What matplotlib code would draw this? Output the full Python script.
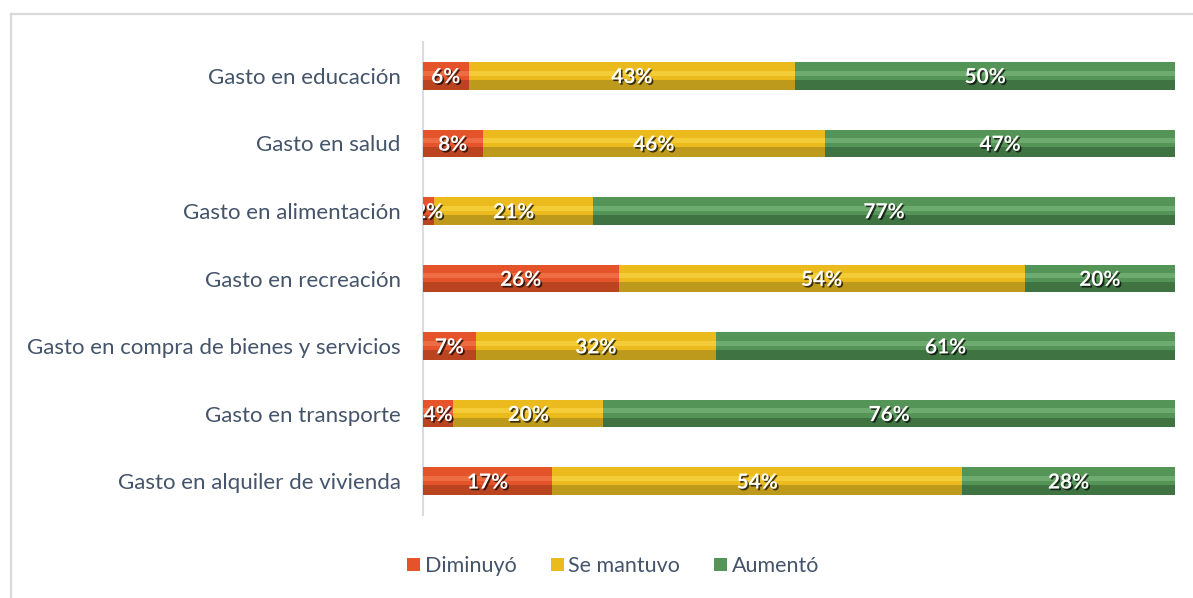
import matplotlib
matplotlib.use('Agg')
import matplotlib.pyplot as plt
import matplotlib.patheffects as pe
import numpy as np
from matplotlib.lines import Line2D

categories = ["Gasto en educación", "Gasto en salud", "Gasto en alimentación",
              "Gasto en recreación", "Gasto en compra de bienes y servicios",
              "Gasto en transporte", "Gasto en alquiler de vivienda"]
diminuyo = [6, 8, 1.5, 26, 7, 4, 17]
se_mantuvo = [43, 46, 21, 54, 32, 20, 54]
aumento = [50, 47, 77, 20, 61, 76, 28]
series_names = ["Diminuyó", "Se mantuvo", "Aumentó"]

palette = [
    ('#E5532A', '#F47E52', '#B9441F'),
    ('#EBBB1E', '#F9D84A', '#BE9A1C'),
    ('#549456', '#80BC81', '#3F7442'),
]

FONT = ['Lato', 'DejaVu Sans']
plt.rcParams['font.family'] = FONT
TXT = '#44546A'

fig = plt.figure(figsize=(11.93, 5.98), dpi=100)
ax = fig.add_axes([423/1193, 1-515/598, (1175-423)/1193, (515-42)/598])

data = np.array([diminuyo, se_mantuvo, aumento], dtype=float)
totals = data.sum(axis=0)
pct = data / totals * 100
y = np.arange(len(categories))
h = 0.41

left = np.zeros(len(categories))
for i, name in enumerate(series_names):
    base, light, dark = palette[i]
    w = pct[i]
    ax.barh(y, w, left=left, height=h, color=base, edgecolor='none', label=name, zorder=2)
    ax.barh(y + h*0.32, w, left=left, height=h*0.36, color=dark, edgecolor='none', zorder=3)
    ax.barh(y - h*0.10, w, left=left, height=h*0.18, color=light, edgecolor='none', zorder=3, alpha=0.6)
    for j in range(len(categories)):
        ax.text(left[j] + w[j]/2, y[j] + 0.02, f"{round(data[i][j] + 0.01):d}%", ha='center', va='center',
                color='white', fontsize=15, fontweight='bold', zorder=5, clip_on=True,
                path_effects=[pe.withSimplePatchShadow(offset=(1.2, -1.2), shadow_rgbFace='black', alpha=0.7)])
    left = left + w

ax.set_xlim(0, 100)
ax.set_ylim(len(categories) - 0.5, -0.5)
ax.set_yticks(y)
ax.set_yticklabels(categories, fontsize=16, color=TXT)
ax.tick_params(axis='y', length=0, pad=16)
ax.set_xticks([])
for s in ['top', 'right', 'bottom']:
    ax.spines[s].set_visible(False)
ax.spines['left'].set_color('#D9DCE3')
ax.spines['left'].set_linewidth(1.5)
ax.spines['left'].set_zorder(1)

handles, labels = ax.get_legend_handles_labels()
leg = fig.legend(handles[:3], labels[:3], loc='center', bbox_to_anchor=(0.514, 1-566/598), ncol=3,
                 frameon=False, fontsize=15.5, handlelength=0.6, handleheight=0.6,
                 handletextpad=0.2, columnspacing=1.6)
for t in leg.get_texts():
    t.set_color(TXT)

fig.add_artist(Line2D([11/1193, 11/1193], [0, 1-14/598], color='#D9D9D9', lw=1.6))
fig.add_artist(Line2D([11/1193, 1], [1-14/598, 1-14/598], color='#D9D9D9', lw=1.6))

fig.savefig('out.png', dpi=100)
